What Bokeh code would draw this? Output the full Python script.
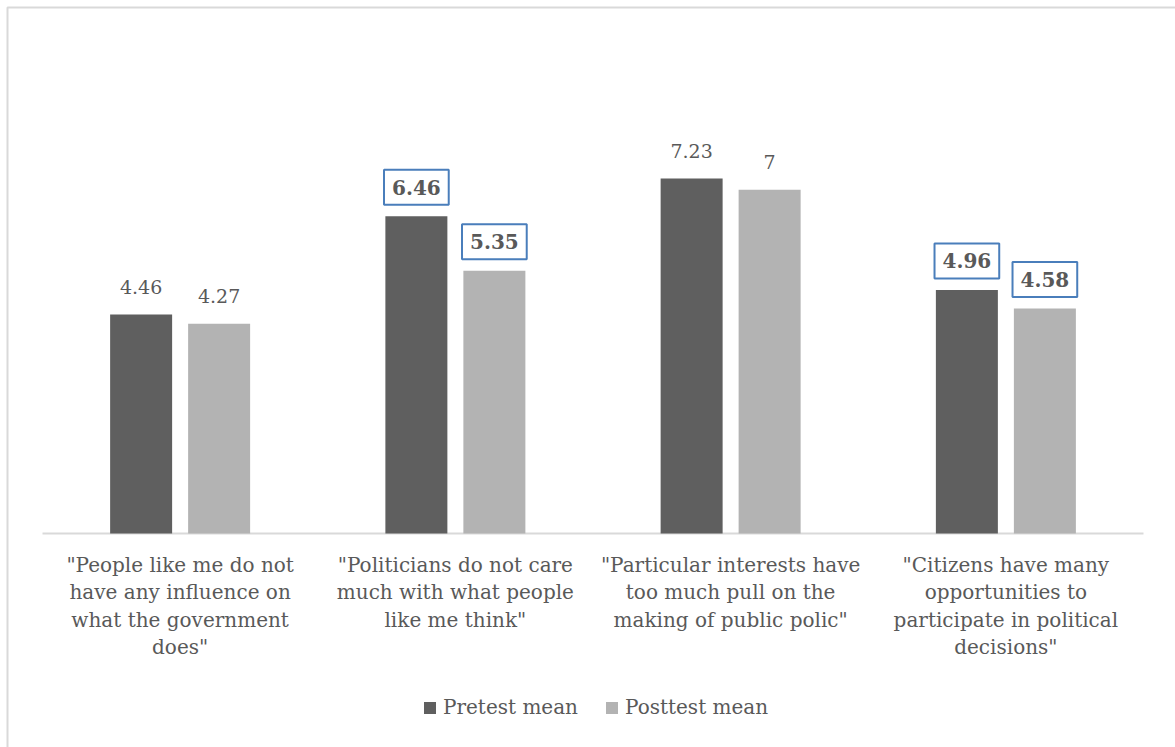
from bokeh.plotting import figure
from bokeh.models import Range1d, Legend, LegendItem
from bokeh.core.properties import value
from bokeh.embed import file_html
from bokeh.resources import INLINE

# ---- data -------------------------------------------------------------
categories = [
    '"People like me do not\nhave any influence on\nwhat the government\ndoes"',
    '"Politicians do not care\nmuch with what people\nlike me think"',
    '"Particular interests have\ntoo much pull on the\nmaking of public polic"',
    '"Citizens have many\nopportunities to\nparticipate in political\ndecisions"',
]
pretest = [4.46, 6.46, 7.23, 4.96]
posttest = [4.27, 5.35, 7.0, 4.58]
pretest_labels = ["4.46", "6.46", "7.23", "4.96"]
posttest_labels = ["4.27", "5.35", "7", "4.58"]
pretest_boxed = [False, True, False, True]
posttest_boxed = [False, True, False, True]
series_names = ["Pretest mean", "Posttest mean"]

# ---- styling ----------------------------------------------------------
DARK = "#5f5f5f"
LIGHT = "#b3b3b3"
TEXT = "#595959"
RULE = "#d9d9d9"
BOX = "#4a7ebb"
FONT = "DejaVu Serif"

W, H = 1175, 747
LEFT, RIGHT, BASE = 42, 1143, 533      # plot-area edges / baseline (px)
UNIT_Y = 49.1                           # px per unit of mean score
n = len(categories)
UNIT_X = (RIGHT - LEFT) / n             # px per category slot


def px_x(px):
    return (px - LEFT) / UNIT_X


def px_y(py):
    return (BASE - py) / UNIT_Y


p = figure(
    width=W, height=H,
    x_range=Range1d(px_x(0), px_x(W)),
    y_range=Range1d(px_y(H), px_y(0)),
    output_backend="svg", toolbar_location=None, tools="",
    x_axis_location=None, y_axis_location=None,
    min_border=0, outline_line_color=None,
    background_fill_color="white", border_fill_color="white",
)
p.grid.visible = False

# chart border (top and left edges)
p.line(x=[px_x(7), px_x(7), px_x(W + 20)], y=[px_y(H + 20), px_y(7), px_y(7)],
       line_color=RULE, line_width=2)

# category baseline
p.line(x=[0, n], y=[0, 0], line_color=RULE, line_width=2)

centers = [i + 0.5 for i in range(n)]
offset = 39 / UNIT_X
bar_w = 62 / UNIT_X
pre_x = [c - offset for c in centers]
post_x = [c + offset for c in centers]

r_pre = p.vbar(x=pre_x, top=pretest, bottom=0, width=bar_w,
               fill_color=DARK, line_color=None)
r_post = p.vbar(x=post_x, top=posttest, bottom=0, width=bar_w,
                fill_color=LIGHT, line_color=None)


def value_labels(xs, ys, labels, boxed):
    plain = [(x, y, t) for x, y, t, b in zip(xs, ys, labels, boxed) if not b]
    boxes = [(x, y, t) for x, y, t, b in zip(xs, ys, labels, boxed) if b]
    if plain:
        p.text(x=[a[0] for a in plain], y=[a[1] for a in plain],
               text=[a[2] for a in plain], y_offset=-28,
               text_align="center", text_baseline="middle",
               text_font=value(FONT), text_font_size="19px", text_color=TEXT)
    if boxes:
        p.text(x=[a[0] for a in boxes], y=[a[1] for a in boxes],
               text=[a[2] for a in boxes], y_offset=-29,
               text_align="center", text_baseline="middle",
               text_font=value(FONT), text_font_size="20px",
               text_font_style="bold", text_color=TEXT,
               border_line_color=BOX, border_line_width=2,
               background_fill_color="white",
               padding=dict(left=8, right=8, top=10, bottom=10))


value_labels(pre_x, pretest, pretest_labels, pretest_boxed)
value_labels(post_x, posttest, posttest_labels, posttest_boxed)

# category labels under the baseline
p.text(x=centers, y=[px_y(552)] * n, text=categories,
       text_align="center", text_baseline="top", text_line_height=1.15,
       text_font=value(FONT), text_font_size="20px", text_color=TEXT)

legend = Legend(
    items=[LegendItem(label=series_names[0], renderers=[r_pre]),
           LegendItem(label=series_names[1], renderers=[r_post])],
    orientation="horizontal", location=(422, 28),
    glyph_width=15, glyph_height=15, label_standoff=6, spacing=26,
    padding=0, margin=0, border_line_color=None, background_fill_alpha=0,
    label_text_font=FONT, label_text_font_size="20px", label_text_color=TEXT,
)
p.add_layout(legend)

open("out.html", "w").write(file_html(p, INLINE))
